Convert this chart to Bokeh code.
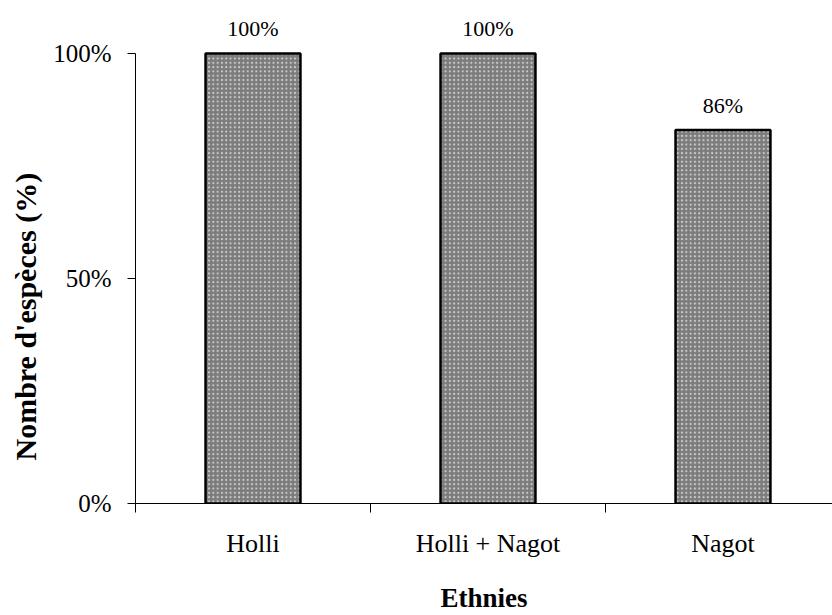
from bokeh.plotting import figure
from bokeh.models import ColumnDataSource, FixedTicker, Range1d, Title
from bokeh.core.properties import value
from bokeh.embed import file_html
from bokeh.resources import INLINE

categories = ["Holli", "Holli + Nagot", "Nagot"]
values = [100, 100, 83]
bar_labels = ["100%", "100%", "86%"]
y_ticks = [0, 50, 100]
y_tick_labels = ["0%", "50%", "100%"]

FONT = "Liberation Serif"

xs = [i + 0.5 for i in range(len(categories))]
src = ColumnDataSource(dict(x=xs, top=values, lab=bar_labels, cat=categories))

# frame from y=5 to y=503 (498 px); 100% spans 450 px
p = figure(width=832, height=615, output_backend="svg", toolbar_location=None,
           x_range=Range1d(0, 2.966), y_range=Range1d(0, 110.67),
           min_border_left=135, min_border_right=0, min_border_top=5,
           min_border_bottom=112)
p.outline_line_color = None
p.xgrid.grid_line_color = None
p.ygrid.grid_line_color = None
p.background_fill_color = "white"

p.vbar(x="x", top="top", width=0.404, source=src, fill_color="#7c7c7c",
       line_color="black", line_width=2.5,
       hatch_pattern=".", hatch_color="#cccccc", hatch_scale=4.3, hatch_weight=1.2)

p.text(x="x", y="top", text="lab", source=src, text_align="center",
       text_baseline="middle", y_offset=-25, text_font=value(FONT),
       text_font_size="22px", text_color="black")

# x axis
p.xaxis.ticker = FixedTicker(ticks=xs, minor_ticks=[0, 1, 2, 3])
p.xaxis.major_label_overrides = {x: c for x, c in zip(xs, categories)}
p.xaxis.major_tick_out = 0
p.xaxis.major_tick_in = 0
p.xaxis.minor_tick_out = 9
p.xaxis.minor_tick_in = 0
p.xaxis.minor_tick_line_color = "black"
p.xaxis.axis_line_color = "black"
p.xaxis.major_label_standoff = 16
p.xaxis.major_label_text_font = FONT
p.xaxis.major_label_text_font_size = "26px"
p.xaxis.major_label_text_color = "black"
p.xaxis.axis_label = "Ethnies"
p.xaxis.axis_label_text_font = FONT
p.xaxis.axis_label_text_font_style = "bold"
p.xaxis.axis_label_text_font_size = "27px"
p.xaxis.axis_label_text_color = "black"
p.xaxis.axis_label_standoff = 22

# y axis
p.yaxis.bounds = (0, 100)
p.yaxis.ticker = FixedTicker(ticks=y_ticks, minor_ticks=[])
p.yaxis.major_label_overrides = {t: l for t, l in zip(y_ticks, y_tick_labels)}
p.yaxis.major_tick_out = 8
p.yaxis.major_tick_in = 0
p.yaxis.major_tick_line_color = "black"
p.yaxis.axis_line_color = "black"
p.yaxis.major_label_standoff = 16
p.yaxis.major_label_text_font = FONT
p.yaxis.major_label_text_font_size = "25px"
p.yaxis.major_label_text_color = "black"

ytitle = Title(text="Nombre d'espèces (%)", align="left", offset=43,
               vertical_align="top",
               text_font=FONT, text_font_style="bold", text_font_size="30px",
               text_color="black", standoff=14)
p.add_layout(ytitle, "left")

open("out.html", "w").write(file_html(p, INLINE))
